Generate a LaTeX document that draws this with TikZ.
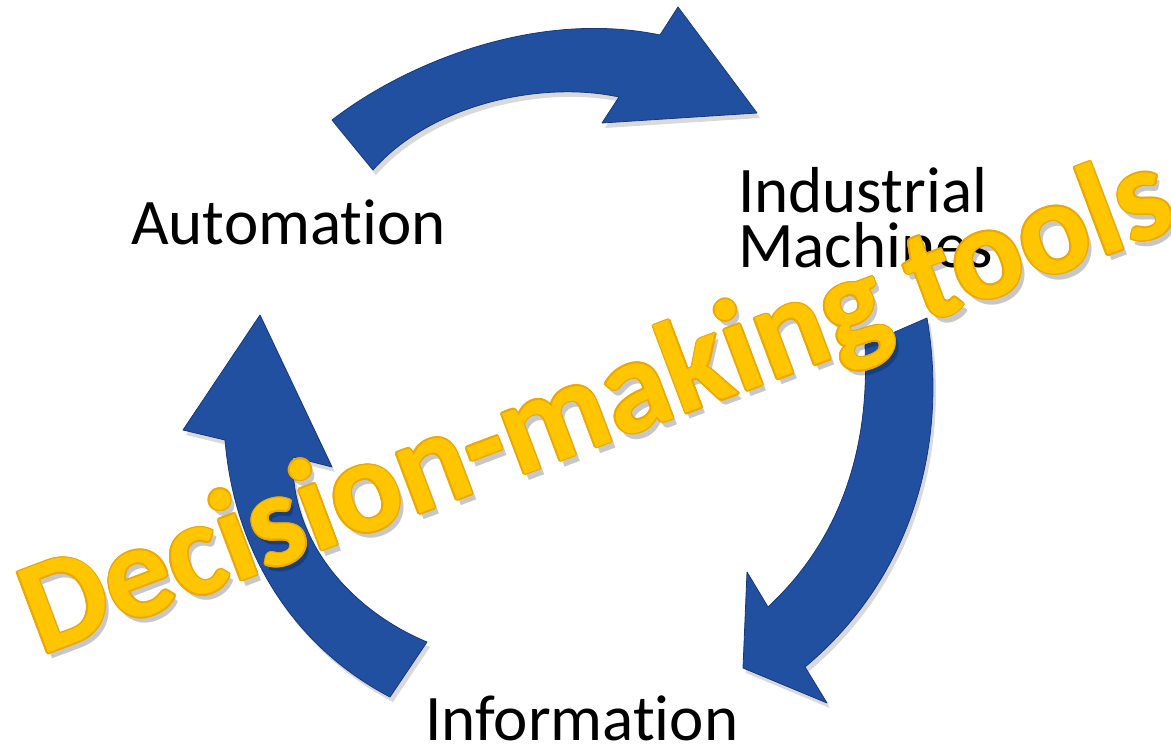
\documentclass[tikz,border=0pt]{standalone}
\usepackage{fontspec}
\setmainfont{Carlito}[Ligatures={NoCommon}]
\usetikzlibrary{calc}
\definecolor{arrowblue}{RGB}{33,80,160}
\definecolor{arrowedge}{RGB}{22,55,125}
\definecolor{gold}{RGB}{255,198,0}
\definecolor{goldedge}{RGB}{236,168,0}
\begin{document}
\begin{tikzpicture}[x=1pt,y=-1pt,
  blockarrow/.style={fill=arrowblue, draw=arrowedge, line width=0.8pt, line join=round},
  arrowshadow/.style={fill=black, opacity=0.15},
  lbl/.style={font=\fontsize{65}{65}\selectfont, inner sep=0pt, text=black, anchor=base west},
  bigtext/.style={font=\fontsize{133}{133}\selectfont\bfseries, inner sep=0pt, rotate=20.6, anchor=base west}]
\useasboundingbox (0,0) rectangle (1171,746);
\fill[white] (0,0) rectangle (1171,746);

\def\toparrow{(332,120) .. controls (410,60) and (540,10) .. (660,35) -- (678,7) -- (757,113) -- (602,123) -- (619,97) .. controls (540,80) and (430,105) .. (373,170) -- cycle}
\def\rightarrow{(927,318) .. controls (948,440) and (915,575) .. (805,667) -- (827,703) -- (743,668) -- (747,572) -- (768,607) .. controls (840,540) and (870,450) .. (865,345) -- cycle}
\def\leftarrow{(390,697) .. controls (300,650) and (235,560) .. (225,440) -- (183,430) -- (260,315) -- (332,467) -- (293,457) .. controls (290,540) and (350,610) .. (427,642) -- cycle}

% shadows
\fill[arrowshadow, shift={(3,5)}] \toparrow;
\fill[arrowshadow, shift={(3,5)}] \rightarrow;
\fill[arrowshadow, shift={(3,5)}] \leftarrow;
% arrows
\path[blockarrow] \toparrow;
\path[blockarrow] \rightarrow;
\path[blockarrow] \leftarrow;

% labels
\node[lbl] (automation) at (131,245) {Automation};
\node[lbl] (industrial) at (738,213) {Industrial};
\node[lbl] (machines) at (738,268) {Machines};
\node[lbl] (information) at (425,740) {Information};

% big overlay text
\node[bigtext, text=black, opacity=0.22] (dmshadow) at (45,662) {Decision-making tools};
\foreach \a in {0,30,...,330}
  \node[bigtext, text=goldedge] (dmoutline\a) at ($(41,656)+(\a:1.6)$) {Decision-making tools};
\node[bigtext, text=gold] (decision) at (41,656) {Decision-making tools};
\end{tikzpicture}
\end{document}
